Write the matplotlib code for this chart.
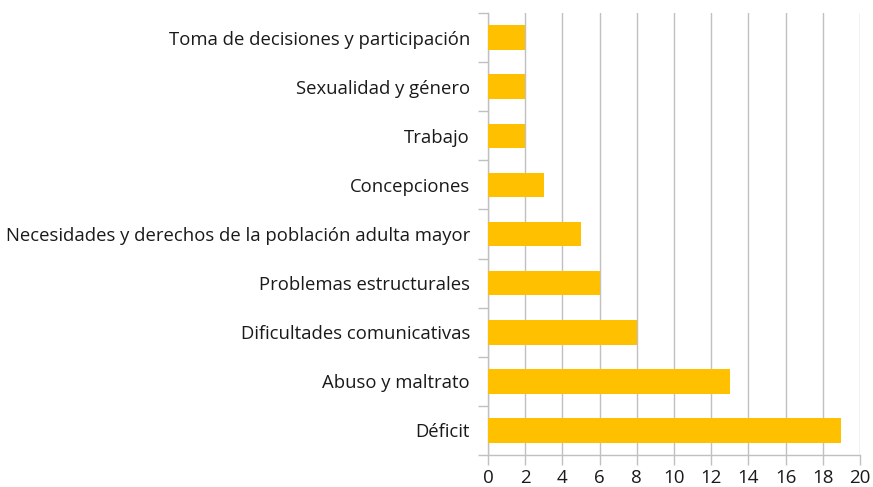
import numpy as np
import matplotlib
matplotlib.use("Agg")
import matplotlib.pyplot as plt

categories = [
    "Déficit",
    "Abuso y maltrato",
    "Dificultades comunicativas",
    "Problemas estructurales",
    "Necesidades y derechos de la población adulta mayor",
    "Concepciones",
    "Trabajo",
    "Sexualidad y género",
    "Toma de decisiones y participación",
]
values = [19, 13, 8, 6, 5, 3, 2, 2, 2]
xticks = list(range(0, 21, 2))

plt.rcParams["font.family"] = ["Open Sans", "DejaVu Sans"]

fig = plt.figure(figsize=(8.73, 4.87), dpi=100)
ax = fig.add_axes([488 / 873, 1 - 455 / 487, (860 - 488) / 873, (455 - 13) / 487])

grid_c = "#C0C0C0"
y = np.arange(len(categories))
ax.barh(y, values, height=0.5, color="#FFC000", zorder=3)

ax.set_xlim(0, 20)
ax.set_ylim(-0.5, len(categories) - 0.5)
ax.set_xticks(xticks)
ax.set_xticklabels([str(t) for t in xticks], fontsize=13.5, color="#1a1a1a")
ax.set_yticks(y)
ax.set_yticklabels(categories, fontsize=13.3, color="#1a1a1a")
ax.set_yticks(np.arange(-0.5, len(categories), 1), minor=True)

ax.tick_params(axis="y", which="major", length=0, pad=13)
ax.tick_params(axis="y", which="minor", length=7, color=grid_c, width=1)
ax.tick_params(axis="x", length=7, color=grid_c, width=1, pad=3)

ax.grid(axis="x", color=grid_c, linewidth=1, zorder=0)
for s in ["top", "right"]:
    ax.spines[s].set_visible(False)
for s in ["left", "bottom"]:
    ax.spines[s].set_color(grid_c)
    ax.spines[s].set_linewidth(1)

fig.savefig("out.png", dpi=100)
